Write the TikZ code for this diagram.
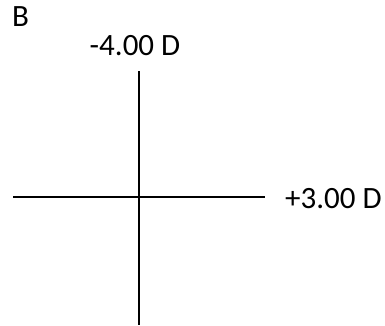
\documentclass[tikz,border=0pt]{standalone}
\usepackage{fontspec}
\setmainfont{Carlito}
\usetikzlibrary{positioning}

\begin{document}
\begin{tikzpicture}[x=1pt, y=-1pt,
  axis/.style={line width=2pt, black},
  lbl/.style={font=\fontsize{31}{37}\selectfont, inner sep=0pt}
]
\useasboundingbox (0,0) rectangle (385,325);
% panel letter
\node[lbl, anchor=base west] (panel) at (12,26) {B};

% cross
\coordinate (ctr) at (139,197);
\coordinate (top) at (139,71);
\coordinate (bot) at (139,325);
\coordinate (left) at (13,197);
\coordinate (right) at (265,197);
\draw[axis] (top) -- (bot);
\draw[axis] (left) -- (right);

% meridian powers
\node[lbl, anchor=base] (vpow) at (135,55) {-4.00 D};
\node[lbl, anchor=base west] (hpow) at (285,208) {+3.00 D};
\end{tikzpicture}
\end{document}
